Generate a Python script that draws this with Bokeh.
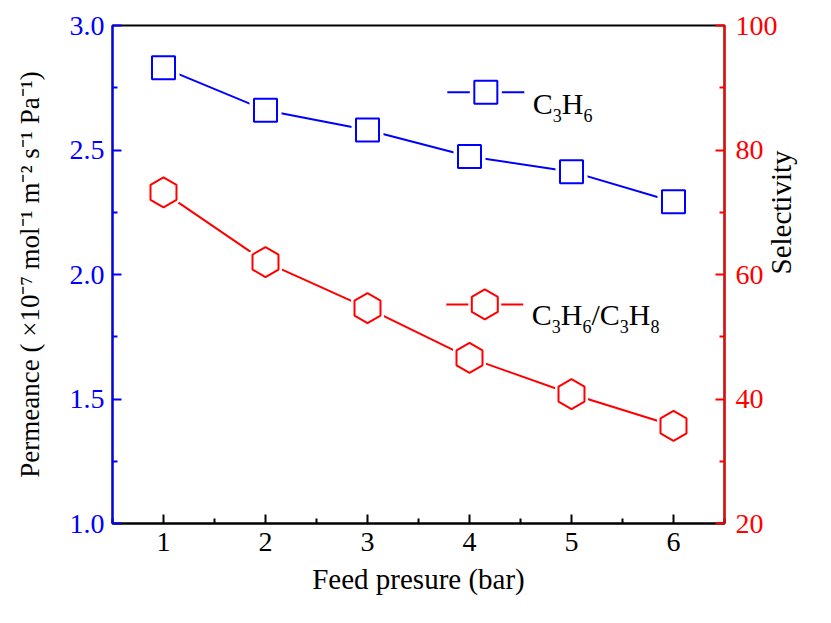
import math
from bokeh.plotting import figure
from bokeh.models import Range1d, LinearAxis, FixedTicker, ColumnDataSource, PrintfTickFormatter
from bokeh.core.properties import value
from bokeh.embed import file_html
from bokeh.resources import INLINE

# ---------------- data ----------------
pressure = [1, 2, 3, 4, 5, 6]
permeance_c3h6 = [2.83, 2.66, 2.58, 2.474, 2.413, 2.292]
selectivity = [73.2, 62.0, 54.6, 46.6, 40.8, 35.7]

x_ticks = [1, 2, 3, 4, 5, 6]
x_minor = [0.5, 1.5, 2.5, 3.5, 4.5, 5.5, 6.5]
left_ticks = [1.0, 1.5, 2.0, 2.5, 3.0]
left_minor = [1.25, 1.75, 2.25, 2.75]
right_ticks = [20, 40, 60, 80, 100]
right_minor = [30, 50, 70, 90]

legend1 = [("C", False), ("3", True), ("H", False), ("6", True)]
legend2 = [("C", False), ("3", True), ("H", False), ("6", True), ("/", False),
           ("C", False), ("3", True), ("H", False), ("8", True)]

x_title = "Feed presure (bar)"
left_title = "Permeance ( \u00d710\u207b\u2077 mol\u207b\u00b9 m\u207b\u00b2 s\u207b\u00b9 Pa\u207b\u00b9)"
right_title = "Selectivity"

# ---------------- style ----------------
FONT = "Liberation Serif"
BLUE = "#0000FF"
RED = "#FF0000"
TICK_SIZE = "28px"
TITLE_SIZE = "29px"
MAIN_PX = 30
SUB_PX = 18
ADV = {"C": 0.667, "H": 0.722, "/": 0.278, "3": 0.5, "6": 0.5, "8": 0.5}

p = figure(width=815, height=607, output_backend="svg", toolbar_location=None,
           x_range=Range1d(0.5, 6.5), y_range=Range1d(1.0, 3.0),
           min_border_left=112, min_border_right=86, min_border_top=25, min_border_bottom=84,
           y_axis_location=None)
p.grid.visible = False
p.outline_line_color = "black"
p.outline_line_width = 2
p.background_fill_color = "white"
p.border_fill_color = "white"
p.extra_y_ranges = {"sel": Range1d(20, 100)}

def style_axis(ax, color, label_color="black"):
    ax.axis_line_color = color
    ax.axis_line_width = 2
    ax.major_tick_line_color = color
    ax.minor_tick_line_color = color
    ax.major_tick_line_width = 2
    ax.minor_tick_line_width = 2
    ax.major_tick_in = 9
    ax.major_tick_out = 0
    ax.minor_tick_in = 5
    ax.minor_tick_out = 0
    ax.major_label_text_font = FONT
    ax.major_label_text_font_size = TICK_SIZE
    ax.major_label_text_color = color
    ax.axis_label_text_font = FONT
    ax.axis_label_text_font_size = TITLE_SIZE
    ax.axis_label_text_font_style = "normal"
    ax.axis_label_text_color = label_color

xa = p.xaxis[0]
style_axis(xa, "black")
xa.ticker = FixedTicker(ticks=x_ticks, minor_ticks=x_minor)
xa.axis_label = x_title
xa.major_label_standoff = 9
xa.axis_label_standoff = 9

ya = LinearAxis(ticker=FixedTicker(ticks=left_ticks, minor_ticks=left_minor),
                formatter=PrintfTickFormatter(format="%.1f"), axis_label=left_title)
style_axis(ya, BLUE)
ya.axis_label_text_font_size = "27px"
ya.major_label_standoff = 8
ya.axis_label_standoff = 22
p.add_layout(ya, "left")

ra = LinearAxis(y_range_name="sel", ticker=FixedTicker(ticks=right_ticks, minor_ticks=right_minor),
                axis_label=right_title)
style_axis(ra, RED)
ra.major_label_standoff = 11
ra.axis_label_standoff = 0
ra.axis_label_orientation = math.pi / 2
p.add_layout(ra, "right")

# ---------------- series ----------------
src1 = ColumnDataSource(dict(x=pressure, y=permeance_c3h6))
src2 = ColumnDataSource(dict(x=pressure, y=selectivity))

p.line("x", "y", source=src1, line_color=BLUE, line_width=2)
p.scatter("x", "y", source=src1, marker="square", size=32, fill_color="white", line_color=None)
p.scatter("x", "y", source=src1, marker="square", size=23, fill_color="white", line_color=BLUE, line_width=2)

p.line("x", "y", source=src2, y_range_name="sel", line_color=RED, line_width=2)
p.scatter("x", "y", source=src2, y_range_name="sel", marker="hex", angle=math.pi / 2, size=38,
          fill_color="white", line_color=None)
p.scatter("x", "y", source=src2, y_range_name="sel", marker="hex", angle=math.pi / 2, size=30,
          fill_color="white", line_color=RED, line_width=2)

# ---------------- legend (manual, for subscripts) ----------------
LEG1_X, LEG1_Y = 4.16, 2.732
LEG2_X, LEG2_Y = 4.15, 1.88

def legend_entry(x, y, color, marker, msize, gap, angle, pieces, text_dx, base_dy):
    p.scatter([x], [y], marker="dash", size=77, line_color=color, line_width=2)
    p.scatter([x], [y], marker=marker, angle=angle, size=gap, fill_color="white", line_color=None)
    p.scatter([x], [y], marker=marker, angle=angle, size=msize, fill_color="white",
              line_color=color, line_width=2)
    xo, yo, tx, fs = [], [], [], []
    off = text_dx
    for t, sub in pieces:
        px = SUB_PX if sub else MAIN_PX
        xo.append(off)
        yo.append(base_dy + (12 if sub else 0))
        tx.append(t)
        fs.append(f"{px}px")
        off += ADV[t] * px
    s = ColumnDataSource(dict(x=[x] * len(tx), y=[y] * len(tx), text=tx, xo=xo, yo=yo, fs=fs))
    p.text("x", "y", text="text", x_offset="xo", y_offset="yo", text_font_size="fs", source=s,
           text_font=value(FONT), text_color="black", text_align="left", text_baseline="alphabetic")

legend_entry(LEG1_X, LEG1_Y, BLUE, "square", 23, 32, 0, legend1, 47, 11)
legend_entry(LEG2_X, LEG2_Y, RED, "hex", 30, 38, math.pi / 2, legend2, 47, 10)

open("out.html", "w").write(file_html(p, INLINE))
